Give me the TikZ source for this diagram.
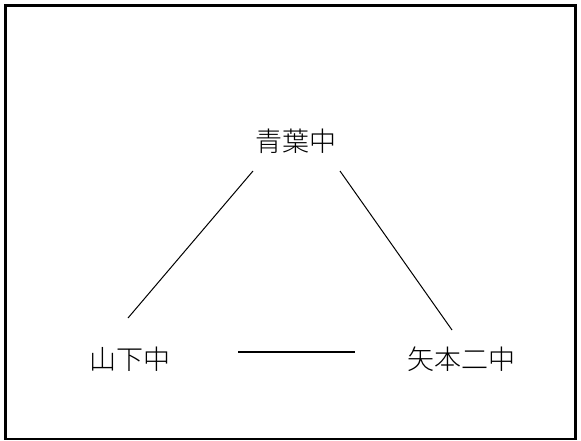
\documentclass[tikz,border=0pt]{standalone}
\usepackage{fontspec}
\IfFontExistsTF{Noto Sans CJK JP Light}{\setmainfont{Noto Sans CJK JP Light}}{\setmainfont{Noto Sans CJK JP}}
\begin{document}
\begin{tikzpicture}[x=1pt,y=-1pt,
  lbl/.style={font=\fontsize{27}{30}\selectfont, inner sep=0pt},
  edge/.style={line width=1pt, black},
  thick edge/.style={line width=2.4pt, black}]
\useasboundingbox (0,0) rectangle (581,441);
\draw[line width=2.5pt] (5.3,5.3) rectangle (575.7,439);
\node[lbl] (a) at (296,141) {青葉中};
\node[lbl] (b) at (130,359) {山下中};
\node[lbl] (c) at (461,359) {矢本二中};
\coordinate (a1) at (253,171);
\coordinate (b1) at (128,318);
\coordinate (a2) at (340,171);
\coordinate (c1) at (452,330);
\coordinate (b2) at (238,352);
\coordinate (c2) at (355,352);
\draw[edge] (a1) -- (b1);
\draw[edge] (a2) -- (c1);
\draw[thick edge] (b2) -- (c2);
\end{tikzpicture}
\end{document}
